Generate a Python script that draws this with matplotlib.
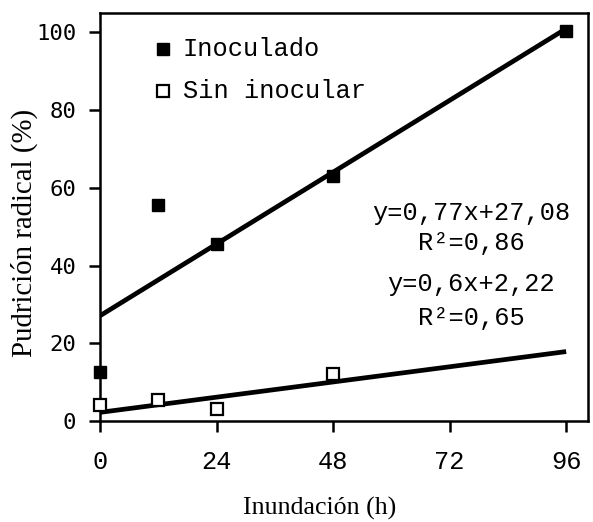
import numpy as np
import matplotlib
matplotlib.use("Agg")
import matplotlib.pyplot as plt

# data
horas = [0, 12, 24, 48, 96]
inoculado = [12.5, 55.5, 45.5, 63, 100.5]
horas_sin = [0, 12, 24, 48]
sin_inocular = [4, 5.5, 3, 12]
# fitted lines (slope, intercept) as drawn
fit_inoc = (0.77, 27.08)
fit_sin = (0.163, 2.22)
xticks = [0, 24, 48, 72, 96]
yticks = [0, 20, 40, 60, 80, 100]

mono = "Liberation Mono"
fs = 18.3

fig = plt.figure(figsize=(5.93, 5.22), dpi=100)
ax = fig.add_axes([0.1686, 0.1935, 0.823, 0.7815])

xx = np.array([0, 96])
ax.plot(xx, fit_inoc[0] * xx + fit_inoc[1], color="black", lw=3.4, solid_capstyle="butt")
ax.plot(xx, fit_sin[0] * xx + fit_sin[1], color="black", lw=3.4, solid_capstyle="butt")

ax.plot(horas, inoculado, "s", color="black", ms=8, clip_on=False, zorder=5)
ax.plot(horas_sin, sin_inocular, "s", mfc="white", mec="black", mew=1.6, ms=8,
        clip_on=False, zorder=5)

ax.set_xlim(0, 100.5)
ax.set_ylim(0, 105)
ax.set_xticks(xticks)
ax.set_yticks(yticks)
ax.set_xticklabels([str(t) for t in xticks], family=mono, fontsize=fs)
ax.set_yticklabels([str(t) for t in yticks], family="DejaVu Sans Mono", fontsize=16)
ax.tick_params(axis="x", length=8, width=1.8, pad=13, direction="out")
ax.tick_params(axis="y", length=8, width=1.8, pad=9, direction="out")
for s in ax.spines.values():
    s.set_linewidth(1.8)

ax.set_xlabel("Inundación (h)", family="Liberation Serif", fontsize=18.6)
ax.set_ylabel("Pudrición radical (%)", family="Liberation Serif", fontsize=20.8)
ax.xaxis.set_label_coords(0.451, -0.185)
ax.yaxis.set_label_coords(-0.128, 0.462)

# legend drawn by hand
ax.plot([13], [95.7], "s", color="black", ms=8)
ax.plot([13], [84.9], "s", mfc="white", mec="black", mew=1.6, ms=8)
ax.text(17, 95.7, "Inoculado", family=mono, fontsize=fs, va="center")
ax.text(17, 84.9, "Sin inocular", family=mono, fontsize=fs, va="center")

ax.text(76.5, 53.5, "y=0,77x+27,08", family=mono, fontsize=fs, ha="center", va="center")
ax.text(76.5, 45.8, "R²=0,86", family=mono, fontsize=fs, ha="center", va="center")
ax.text(76.5, 35.2, "y=0,6x+2,22", family=mono, fontsize=fs, ha="center", va="center")
ax.text(76.5, 26.5, "R²=0,65", family=mono, fontsize=fs, ha="center", va="center")

fig.savefig("out.png", dpi=100)
